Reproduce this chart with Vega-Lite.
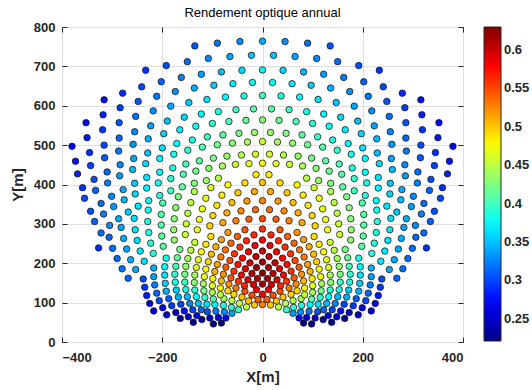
{
"$schema":"https://vega.github.io/schema/vega-lite/v6.json",
"width":401,"height":315,
"autosize":{"type":"none"},
"padding":{"left":62,"top":27,"right":69,"bottom":48},
"background":"white",
"title":{"text":"Rendement  optique  annual","fontSize":13,"fontWeight":"normal","font":"Liberation Sans","color":"#000000","offset":1},
"config":{"view":{"stroke":"#262626","strokeWidth":1}},
"resolve":{"axis":{"x":"independent","y":"independent"}},
"layer":[
{
"data":{"values":[
{"x":-82,"y":48,"v":0.222},{"x":-73,"y":61,"v":0.270},{"x":-61,"y":73,"v":0.335},{"x":-48,"y":82,"v":0.396},{"x":-32,"y":89,"v":0.451},{"x":-16,"y":94,"v":0.498},{"x":0,"y":95,"v":0.530},{"x":16,"y":94,"v":0.498},{"x":32,"y":89,"v":0.451},{"x":48,"y":82,"v":0.396},{"x":61,"y":73,"v":0.335},{"x":73,"y":61,"v":0.270},{"x":82,"y":48,"v":0.222},
{"x":-98,"y":46,"v":0.222},{"x":-88,"y":62,"v":0.260},{"x":-76,"y":76,"v":0.328},{"x":-62,"y":88,"v":0.391},{"x":-46,"y":98,"v":0.449},{"x":-28,"y":104,"v":0.501},{"x":-9,"y":108,"v":0.542},{"x":9,"y":108,"v":0.542},{"x":28,"y":104,"v":0.501},{"x":46,"y":98,"v":0.449},{"x":62,"y":88,"v":0.391},{"x":76,"y":76,"v":0.328},{"x":88,"y":62,"v":0.260},{"x":98,"y":46,"v":0.222},
{"x":-105,"y":61,"v":0.250},{"x":-93,"y":78,"v":0.320},{"x":-78,"y":93,"v":0.385},{"x":-61,"y":105,"v":0.446},{"x":-41,"y":114,"v":0.501},{"x":-21,"y":119,"v":0.548},{"x":0,"y":121,"v":0.580},{"x":21,"y":119,"v":0.548},{"x":41,"y":114,"v":0.501},{"x":61,"y":105,"v":0.446},{"x":78,"y":93,"v":0.385},{"x":93,"y":78,"v":0.320},{"x":105,"y":61,"v":0.250},
{"x":-121,"y":57,"v":0.234},{"x":-110,"y":77,"v":0.305},{"x":-95,"y":95,"v":0.373},{"x":-77,"y":110,"v":0.436},{"x":-57,"y":121,"v":0.494},{"x":-35,"y":129,"v":0.546},{"x":-12,"y":133,"v":0.587},{"x":12,"y":133,"v":0.587},{"x":35,"y":129,"v":0.546},{"x":57,"y":121,"v":0.494},{"x":77,"y":110,"v":0.436},{"x":95,"y":95,"v":0.373},{"x":110,"y":77,"v":0.305},{"x":121,"y":57,"v":0.234},
{"x":-138,"y":50,"v":0.222},{"x":-131,"y":67,"v":0.263},{"x":-122,"y":82,"v":0.313},{"x":-111,"y":96,"v":0.361},{"x":-98,"y":109,"v":0.407},{"x":-84,"y":120,"v":0.451},{"x":-69,"y":130,"v":0.492},{"x":-53,"y":137,"v":0.531},{"x":-36,"y":143,"v":0.565},{"x":-18,"y":146,"v":0.595},{"x":0,"y":147,"v":0.615},{"x":18,"y":146,"v":0.595},{"x":36,"y":143,"v":0.565},{"x":53,"y":137,"v":0.531},{"x":69,"y":130,"v":0.492},{"x":84,"y":120,"v":0.451},{"x":98,"y":109,"v":0.407},{"x":111,"y":96,"v":0.361},{"x":122,"y":82,"v":0.313},{"x":131,"y":67,"v":0.263},{"x":138,"y":50,"v":0.222},
{"x":-148,"y":64,"v":0.248},{"x":-139,"y":82,"v":0.299},{"x":-128,"y":98,"v":0.348},{"x":-115,"y":113,"v":0.395},{"x":-100,"y":126,"v":0.440},{"x":-84,"y":137,"v":0.482},{"x":-67,"y":147,"v":0.522},{"x":-48,"y":154,"v":0.559},{"x":-29,"y":158,"v":0.591},{"x":-10,"y":161,"v":0.617},{"x":10,"y":161,"v":0.617},{"x":29,"y":158,"v":0.591},{"x":48,"y":154,"v":0.559},{"x":67,"y":147,"v":0.522},{"x":84,"y":137,"v":0.482},{"x":100,"y":126,"v":0.440},{"x":115,"y":113,"v":0.395},{"x":128,"y":98,"v":0.348},{"x":139,"y":82,"v":0.299},{"x":148,"y":64,"v":0.248},
{"x":-164,"y":60,"v":0.225},{"x":-156,"y":79,"v":0.276},{"x":-145,"y":98,"v":0.326},{"x":-132,"y":115,"v":0.374},{"x":-117,"y":130,"v":0.420},{"x":-100,"y":143,"v":0.464},{"x":-82,"y":155,"v":0.505},{"x":-63,"y":163,"v":0.544},{"x":-42,"y":170,"v":0.578},{"x":-21,"y":174,"v":0.608},{"x":0,"y":175,"v":0.628},{"x":21,"y":174,"v":0.608},{"x":42,"y":170,"v":0.578},{"x":63,"y":163,"v":0.544},{"x":82,"y":155,"v":0.505},{"x":100,"y":143,"v":0.464},{"x":117,"y":130,"v":0.420},{"x":132,"y":115,"v":0.374},{"x":145,"y":98,"v":0.326},{"x":156,"y":79,"v":0.276},{"x":164,"y":60,"v":0.225},
{"x":-173,"y":75,"v":0.248},{"x":-163,"y":96,"v":0.299},{"x":-150,"y":115,"v":0.348},{"x":-135,"y":132,"v":0.395},{"x":-118,"y":148,"v":0.440},{"x":-99,"y":161,"v":0.482},{"x":-78,"y":172,"v":0.522},{"x":-57,"y":180,"v":0.559},{"x":-34,"y":186,"v":0.591},{"x":-12,"y":189,"v":0.617},{"x":12,"y":189,"v":0.617},{"x":34,"y":186,"v":0.591},{"x":57,"y":180,"v":0.559},{"x":78,"y":172,"v":0.522},{"x":99,"y":161,"v":0.482},{"x":118,"y":148,"v":0.440},{"x":135,"y":132,"v":0.395},{"x":150,"y":115,"v":0.348},{"x":163,"y":96,"v":0.299},{"x":173,"y":75,"v":0.248},
{"x":-191,"y":69,"v":0.249},{"x":-181,"y":92,"v":0.296},{"x":-168,"y":114,"v":0.342},{"x":-153,"y":133,"v":0.386},{"x":-136,"y":151,"v":0.429},{"x":-116,"y":166,"v":0.469},{"x":-95,"y":179,"v":0.507},{"x":-73,"y":190,"v":0.543},{"x":-49,"y":197,"v":0.574},{"x":-25,"y":201,"v":0.602},{"x":0,"y":203,"v":0.620},{"x":25,"y":201,"v":0.602},{"x":49,"y":197,"v":0.574},{"x":73,"y":190,"v":0.543},{"x":95,"y":179,"v":0.507},{"x":116,"y":166,"v":0.469},{"x":136,"y":151,"v":0.429},{"x":153,"y":133,"v":0.386},{"x":168,"y":114,"v":0.342},{"x":181,"y":92,"v":0.296},{"x":191,"y":69,"v":0.249},
{"x":-199,"y":87,"v":0.263},{"x":-187,"y":110,"v":0.310},{"x":-172,"y":132,"v":0.355},{"x":-155,"y":152,"v":0.398},{"x":-135,"y":170,"v":0.440},{"x":-113,"y":185,"v":0.478},{"x":-90,"y":197,"v":0.515},{"x":-65,"y":207,"v":0.549},{"x":-40,"y":213,"v":0.579},{"x":-13,"y":217,"v":0.603},{"x":13,"y":217,"v":0.603},{"x":40,"y":213,"v":0.579},{"x":65,"y":207,"v":0.549},{"x":90,"y":197,"v":0.515},{"x":113,"y":185,"v":0.478},{"x":135,"y":170,"v":0.440},{"x":155,"y":152,"v":0.398},{"x":172,"y":132,"v":0.355},{"x":187,"y":110,"v":0.310},{"x":199,"y":87,"v":0.263},
{"x":-217,"y":79,"v":0.257},{"x":-206,"y":105,"v":0.301},{"x":-192,"y":129,"v":0.343},{"x":-174,"y":152,"v":0.384},{"x":-155,"y":172,"v":0.423},{"x":-132,"y":189,"v":0.461},{"x":-108,"y":204,"v":0.495},{"x":-83,"y":216,"v":0.529},{"x":-56,"y":224,"v":0.558},{"x":-28,"y":229,"v":0.583},{"x":0,"y":231,"v":0.600},{"x":28,"y":229,"v":0.583},{"x":56,"y":224,"v":0.558},{"x":83,"y":216,"v":0.529},{"x":108,"y":204,"v":0.495},{"x":132,"y":189,"v":0.461},{"x":155,"y":172,"v":0.423},{"x":174,"y":152,"v":0.384},{"x":192,"y":129,"v":0.343},{"x":206,"y":105,"v":0.301},{"x":217,"y":79,"v":0.257},
{"x":-225,"y":98,"v":0.270},{"x":-211,"y":124,"v":0.313},{"x":-194,"y":149,"v":0.355},{"x":-175,"y":172,"v":0.395},{"x":-153,"y":192,"v":0.433},{"x":-128,"y":209,"v":0.469},{"x":-102,"y":223,"v":0.503},{"x":-74,"y":234,"v":0.534},{"x":-45,"y":241,"v":0.561},{"x":-15,"y":245,"v":0.583},{"x":15,"y":245,"v":0.583},{"x":45,"y":241,"v":0.561},{"x":74,"y":234,"v":0.534},{"x":102,"y":223,"v":0.503},{"x":128,"y":209,"v":0.469},{"x":153,"y":192,"v":0.433},{"x":175,"y":172,"v":0.395},{"x":194,"y":149,"v":0.355},{"x":211,"y":124,"v":0.313},{"x":225,"y":98,"v":0.270},
{"x":-231,"y":118,"v":0.281},{"x":-215,"y":145,"v":0.323},{"x":-195,"y":170,"v":0.364},{"x":-173,"y":192,"v":0.403},{"x":-149,"y":212,"v":0.441},{"x":-122,"y":229,"v":0.475},{"x":-93,"y":242,"v":0.509},{"x":-63,"y":251,"v":0.538},{"x":-32,"y":257,"v":0.563},{"x":0,"y":259,"v":0.580},{"x":32,"y":257,"v":0.563},{"x":63,"y":251,"v":0.538},{"x":93,"y":242,"v":0.509},{"x":122,"y":229,"v":0.475},{"x":149,"y":212,"v":0.441},{"x":173,"y":192,"v":0.403},{"x":195,"y":170,"v":0.364},{"x":215,"y":145,"v":0.323},{"x":231,"y":118,"v":0.281},
{"x":-235,"y":139,"v":0.293},{"x":-217,"y":166,"v":0.335},{"x":-195,"y":191,"v":0.375},{"x":-170,"y":214,"v":0.413},{"x":-143,"y":233,"v":0.449},{"x":-113,"y":248,"v":0.483},{"x":-82,"y":260,"v":0.514},{"x":-50,"y":268,"v":0.541},{"x":-17,"y":272,"v":0.563},{"x":17,"y":272,"v":0.563},{"x":50,"y":268,"v":0.541},{"x":82,"y":260,"v":0.514},{"x":113,"y":248,"v":0.483},{"x":143,"y":233,"v":0.449},{"x":170,"y":214,"v":0.413},{"x":195,"y":191,"v":0.375},{"x":217,"y":166,"v":0.335},{"x":235,"y":139,"v":0.293},
{"x":-238,"y":160,"v":0.303},{"x":-217,"y":188,"v":0.344},{"x":-192,"y":213,"v":0.383},{"x":-165,"y":235,"v":0.421},{"x":-135,"y":253,"v":0.455},{"x":-103,"y":268,"v":0.489},{"x":-69,"y":278,"v":0.518},{"x":-35,"y":285,"v":0.543},{"x":0,"y":287,"v":0.560},{"x":35,"y":285,"v":0.543},{"x":69,"y":278,"v":0.518},{"x":103,"y":268,"v":0.489},{"x":135,"y":253,"v":0.455},{"x":165,"y":235,"v":0.421},{"x":192,"y":213,"v":0.383},{"x":217,"y":188,"v":0.344},{"x":238,"y":160,"v":0.303},
{"x":-268,"y":162,"v":0.314},{"x":-253,"y":184,"v":0.340},{"x":-236,"y":205,"v":0.364},{"x":-218,"y":225,"v":0.388},{"x":-198,"y":243,"v":0.411},{"x":-176,"y":259,"v":0.433},{"x":-154,"y":273,"v":0.454},{"x":-130,"y":285,"v":0.475},{"x":-105,"y":295,"v":0.494},{"x":-79,"y":303,"v":0.511},{"x":-53,"y":308,"v":0.527},{"x":-27,"y":312,"v":0.541},{"x":0,"y":313,"v":0.550},{"x":27,"y":312,"v":0.541},{"x":53,"y":308,"v":0.527},{"x":79,"y":303,"v":0.511},{"x":105,"y":295,"v":0.494},{"x":130,"y":285,"v":0.475},{"x":154,"y":273,"v":0.454},{"x":176,"y":259,"v":0.433},{"x":198,"y":243,"v":0.411},{"x":218,"y":225,"v":0.388},{"x":236,"y":205,"v":0.364},{"x":253,"y":184,"v":0.340},{"x":268,"y":162,"v":0.314},
{"x":-280,"y":186,"v":0.317},{"x":-263,"y":209,"v":0.342},{"x":-244,"y":231,"v":0.366},{"x":-223,"y":251,"v":0.390},{"x":-201,"y":269,"v":0.412},{"x":-177,"y":285,"v":0.434},{"x":-152,"y":300,"v":0.455},{"x":-126,"y":311,"v":0.474},{"x":-99,"y":321,"v":0.493},{"x":-71,"y":328,"v":0.509},{"x":-43,"y":333,"v":0.524},{"x":-14,"y":336,"v":0.536},{"x":14,"y":336,"v":0.536},{"x":43,"y":333,"v":0.524},{"x":71,"y":328,"v":0.509},{"x":99,"y":321,"v":0.493},{"x":126,"y":311,"v":0.474},{"x":152,"y":300,"v":0.455},{"x":177,"y":285,"v":0.434},{"x":201,"y":269,"v":0.412},{"x":223,"y":251,"v":0.390},{"x":244,"y":231,"v":0.366},{"x":263,"y":209,"v":0.342},{"x":280,"y":186,"v":0.317},
{"x":-290,"y":212,"v":0.315},{"x":-271,"y":236,"v":0.339},{"x":-250,"y":258,"v":0.363},{"x":-227,"y":278,"v":0.386},{"x":-202,"y":297,"v":0.408},{"x":-176,"y":313,"v":0.429},{"x":-149,"y":327,"v":0.450},{"x":-120,"y":338,"v":0.469},{"x":-91,"y":347,"v":0.486},{"x":-61,"y":354,"v":0.502},{"x":-31,"y":358,"v":0.516},{"x":0,"y":359,"v":0.525},{"x":31,"y":358,"v":0.516},{"x":61,"y":354,"v":0.502},{"x":91,"y":347,"v":0.486},{"x":120,"y":338,"v":0.469},{"x":149,"y":327,"v":0.450},{"x":176,"y":313,"v":0.429},{"x":202,"y":297,"v":0.408},{"x":227,"y":278,"v":0.386},{"x":250,"y":258,"v":0.363},{"x":271,"y":236,"v":0.339},{"x":290,"y":212,"v":0.315},
{"x":-299,"y":238,"v":0.317},{"x":-277,"y":263,"v":0.341},{"x":-254,"y":285,"v":0.365},{"x":-229,"y":306,"v":0.387},{"x":-202,"y":324,"v":0.409},{"x":-173,"y":341,"v":0.430},{"x":-143,"y":354,"v":0.449},{"x":-113,"y":365,"v":0.468},{"x":-81,"y":373,"v":0.484},{"x":-49,"y":379,"v":0.499},{"x":-16,"y":382,"v":0.511},{"x":16,"y":382,"v":0.511},{"x":49,"y":379,"v":0.499},{"x":81,"y":373,"v":0.484},{"x":113,"y":365,"v":0.468},{"x":143,"y":354,"v":0.449},{"x":173,"y":341,"v":0.430},{"x":202,"y":324,"v":0.409},{"x":229,"y":306,"v":0.387},{"x":254,"y":285,"v":0.365},{"x":277,"y":263,"v":0.341},{"x":299,"y":238,"v":0.317},
{"x":-327,"y":239,"v":0.290},{"x":-306,"y":266,"v":0.314},{"x":-282,"y":291,"v":0.338},{"x":-256,"y":314,"v":0.361},{"x":-228,"y":335,"v":0.383},{"x":-199,"y":353,"v":0.404},{"x":-168,"y":369,"v":0.425},{"x":-136,"y":382,"v":0.444},{"x":-103,"y":392,"v":0.461},{"x":-69,"y":399,"v":0.477},{"x":-35,"y":404,"v":0.491},{"x":0,"y":405,"v":0.500},{"x":35,"y":404,"v":0.491},{"x":69,"y":399,"v":0.477},{"x":103,"y":392,"v":0.461},{"x":136,"y":382,"v":0.444},{"x":168,"y":369,"v":0.425},{"x":199,"y":353,"v":0.404},{"x":228,"y":335,"v":0.383},{"x":256,"y":314,"v":0.361},{"x":282,"y":291,"v":0.338},{"x":306,"y":266,"v":0.314},{"x":327,"y":239,"v":0.290},
{"x":-322,"y":277,"v":0.317},{"x":-305,"y":296,"v":0.329},{"x":-287,"y":313,"v":0.341},{"x":-268,"y":330,"v":0.353},{"x":-248,"y":345,"v":0.365},{"x":-227,"y":359,"v":0.377},{"x":-205,"y":372,"v":0.389},{"x":-183,"y":384,"v":0.401},{"x":-160,"y":394,"v":0.413},{"x":-136,"y":403,"v":0.425},{"x":-112,"y":410,"v":0.436},{"x":-88,"y":416,"v":0.448},{"x":-13,"y":425,"v":0.484},{"x":13,"y":425,"v":0.484},{"x":88,"y":416,"v":0.448},{"x":112,"y":410,"v":0.436},{"x":136,"y":403,"v":0.425},{"x":160,"y":394,"v":0.413},{"x":183,"y":384,"v":0.401},{"x":205,"y":372,"v":0.389},{"x":227,"y":359,"v":0.377},{"x":248,"y":345,"v":0.365},{"x":268,"y":330,"v":0.353},{"x":287,"y":313,"v":0.341},{"x":305,"y":296,"v":0.329},{"x":322,"y":277,"v":0.317},
{"x":-335,"y":306,"v":0.311},{"x":-317,"y":325,"v":0.323},{"x":-297,"y":344,"v":0.335},{"x":-276,"y":361,"v":0.347},{"x":-254,"y":376,"v":0.359},{"x":-231,"y":391,"v":0.371},{"x":-208,"y":404,"v":0.383},{"x":-183,"y":415,"v":0.395},{"x":-158,"y":426,"v":0.407},{"x":-133,"y":434,"v":0.418},{"x":-107,"y":441,"v":0.430},{"x":-80,"y":447,"v":0.442},{"x":-54,"y":451,"v":0.454},{"x":-27,"y":453,"v":0.466},{"x":0,"y":454,"v":0.478},{"x":27,"y":453,"v":0.466},{"x":54,"y":451,"v":0.454},{"x":80,"y":447,"v":0.442},{"x":107,"y":441,"v":0.430},{"x":133,"y":434,"v":0.418},{"x":158,"y":426,"v":0.407},{"x":183,"y":415,"v":0.395},{"x":208,"y":404,"v":0.383},{"x":231,"y":391,"v":0.371},{"x":254,"y":376,"v":0.359},{"x":276,"y":361,"v":0.347},{"x":297,"y":344,"v":0.335},{"x":317,"y":325,"v":0.323},{"x":335,"y":306,"v":0.311},
{"x":-343,"y":332,"v":0.304},{"x":-322,"y":352,"v":0.316},{"x":-301,"y":370,"v":0.328},{"x":-278,"y":387,"v":0.340},{"x":-255,"y":403,"v":0.352},{"x":-231,"y":418,"v":0.364},{"x":-205,"y":431,"v":0.376},{"x":-179,"y":442,"v":0.388},{"x":-153,"y":452,"v":0.400},{"x":-126,"y":460,"v":0.411},{"x":-98,"y":467,"v":0.423},{"x":-71,"y":472,"v":0.435},{"x":-42,"y":475,"v":0.447},{"x":-14,"y":477,"v":0.459},{"x":14,"y":477,"v":0.459},{"x":42,"y":475,"v":0.447},{"x":71,"y":472,"v":0.435},{"x":98,"y":467,"v":0.423},{"x":126,"y":460,"v":0.411},{"x":153,"y":452,"v":0.400},{"x":179,"y":442,"v":0.388},{"x":205,"y":431,"v":0.376},{"x":231,"y":418,"v":0.364},{"x":255,"y":403,"v":0.352},{"x":278,"y":387,"v":0.340},{"x":301,"y":370,"v":0.328},{"x":322,"y":352,"v":0.316},{"x":343,"y":332,"v":0.304},
{"x":-355,"y":365,"v":0.300},{"x":-333,"y":385,"v":0.312},{"x":-309,"y":404,"v":0.324},{"x":-285,"y":422,"v":0.336},{"x":-259,"y":438,"v":0.348},{"x":-233,"y":453,"v":0.360},{"x":-205,"y":466,"v":0.372},{"x":-177,"y":477,"v":0.384},{"x":-149,"y":487,"v":0.395},{"x":-120,"y":495,"v":0.407},{"x":-90,"y":501,"v":0.419},{"x":-60,"y":505,"v":0.431},{"x":-30,"y":508,"v":0.443},{"x":0,"y":509,"v":0.455},{"x":30,"y":508,"v":0.443},{"x":60,"y":505,"v":0.431},{"x":90,"y":501,"v":0.419},{"x":120,"y":495,"v":0.407},{"x":149,"y":487,"v":0.395},{"x":177,"y":477,"v":0.384},{"x":205,"y":466,"v":0.372},{"x":233,"y":453,"v":0.360},{"x":259,"y":438,"v":0.348},{"x":285,"y":422,"v":0.336},{"x":309,"y":404,"v":0.324},{"x":333,"y":385,"v":0.312},{"x":355,"y":365,"v":0.300},
{"x":-359,"y":392,"v":0.291},{"x":-336,"y":413,"v":0.303},{"x":-310,"y":432,"v":0.315},{"x":-284,"y":450,"v":0.327},{"x":-257,"y":466,"v":0.339},{"x":-229,"y":480,"v":0.351},{"x":-200,"y":493,"v":0.363},{"x":-171,"y":504,"v":0.375},{"x":-140,"y":513,"v":0.386},{"x":-110,"y":521,"v":0.398},{"x":-79,"y":526,"v":0.410},{"x":-47,"y":530,"v":0.422},{"x":-16,"y":532,"v":0.434},{"x":16,"y":532,"v":0.434},{"x":47,"y":530,"v":0.422},{"x":79,"y":526,"v":0.410},{"x":110,"y":521,"v":0.398},{"x":140,"y":513,"v":0.386},{"x":171,"y":504,"v":0.375},{"x":200,"y":493,"v":0.363},{"x":229,"y":480,"v":0.351},{"x":257,"y":466,"v":0.339},{"x":284,"y":450,"v":0.327},{"x":310,"y":432,"v":0.315},{"x":336,"y":413,"v":0.303},{"x":359,"y":392,"v":0.291},
{"x":-369,"y":427,"v":0.285},{"x":-343,"y":448,"v":0.297},{"x":-315,"y":468,"v":0.309},{"x":-287,"y":485,"v":0.321},{"x":-258,"y":502,"v":0.333},{"x":-228,"y":516,"v":0.345},{"x":-197,"y":529,"v":0.357},{"x":-165,"y":539,"v":0.368},{"x":-133,"y":548,"v":0.380},{"x":-100,"y":555,"v":0.392},{"x":-67,"y":560,"v":0.404},{"x":-33,"y":563,"v":0.416},{"x":0,"y":564,"v":0.428},{"x":33,"y":563,"v":0.416},{"x":67,"y":560,"v":0.404},{"x":100,"y":555,"v":0.392},{"x":133,"y":548,"v":0.380},{"x":165,"y":539,"v":0.368},{"x":197,"y":529,"v":0.357},{"x":228,"y":516,"v":0.345},{"x":258,"y":502,"v":0.333},{"x":287,"y":485,"v":0.321},{"x":315,"y":468,"v":0.309},{"x":343,"y":448,"v":0.297},{"x":369,"y":427,"v":0.285},
{"x":-373,"y":459,"v":0.278},{"x":-345,"y":481,"v":0.290},{"x":-316,"y":500,"v":0.302},{"x":-286,"y":518,"v":0.314},{"x":-255,"y":534,"v":0.326},{"x":-223,"y":549,"v":0.338},{"x":-190,"y":561,"v":0.350},{"x":-156,"y":571,"v":0.361},{"x":-122,"y":579,"v":0.373},{"x":-88,"y":585,"v":0.385},{"x":-53,"y":590,"v":0.397},{"x":-18,"y":592,"v":0.409},{"x":18,"y":592,"v":0.409},{"x":53,"y":590,"v":0.397},{"x":88,"y":585,"v":0.385},{"x":122,"y":579,"v":0.373},{"x":156,"y":571,"v":0.361},{"x":190,"y":561,"v":0.350},{"x":223,"y":549,"v":0.338},{"x":255,"y":534,"v":0.326},{"x":286,"y":518,"v":0.314},{"x":316,"y":500,"v":0.302},{"x":345,"y":481,"v":0.290},{"x":373,"y":459,"v":0.278},
{"x":-380,"y":497,"v":0.269},{"x":-350,"y":519,"v":0.281},{"x":-319,"y":539,"v":0.293},{"x":-286,"y":557,"v":0.305},{"x":-253,"y":573,"v":0.317},{"x":-218,"y":587,"v":0.329},{"x":-183,"y":599,"v":0.340},{"x":-147,"y":608,"v":0.352},{"x":-111,"y":616,"v":0.364},{"x":-74,"y":622,"v":0.376},{"x":-37,"y":625,"v":0.388},{"x":0,"y":626,"v":0.400},{"x":37,"y":625,"v":0.388},{"x":74,"y":622,"v":0.376},{"x":111,"y":616,"v":0.364},{"x":147,"y":608,"v":0.352},{"x":183,"y":599,"v":0.340},{"x":218,"y":587,"v":0.329},{"x":253,"y":573,"v":0.317},{"x":286,"y":557,"v":0.305},{"x":319,"y":539,"v":0.293},{"x":350,"y":519,"v":0.281},{"x":380,"y":497,"v":0.269},
{"x":-352,"y":557,"v":0.272},{"x":-318,"y":577,"v":0.284},{"x":-284,"y":595,"v":0.296},{"x":-248,"y":611,"v":0.308},{"x":-211,"y":624,"v":0.320},{"x":-174,"y":636,"v":0.331},{"x":-136,"y":645,"v":0.343},{"x":-97,"y":652,"v":0.355},{"x":-59,"y":656,"v":0.367},{"x":-20,"y":659,"v":0.379},{"x":20,"y":659,"v":0.379},{"x":59,"y":656,"v":0.367},{"x":97,"y":652,"v":0.355},{"x":136,"y":645,"v":0.343},{"x":174,"y":636,"v":0.331},{"x":211,"y":624,"v":0.320},{"x":248,"y":611,"v":0.308},{"x":284,"y":595,"v":0.296},{"x":318,"y":577,"v":0.284},{"x":352,"y":557,"v":0.272},
{"x":-316,"y":615,"v":0.277},{"x":-279,"y":632,"v":0.289},{"x":-241,"y":648,"v":0.301},{"x":-202,"y":661,"v":0.312},{"x":-162,"y":672,"v":0.324},{"x":-122,"y":680,"v":0.336},{"x":-82,"y":686,"v":0.348},{"x":-41,"y":690,"v":0.360},{"x":0,"y":691,"v":0.372},{"x":41,"y":690,"v":0.360},{"x":82,"y":686,"v":0.348},{"x":122,"y":680,"v":0.336},{"x":162,"y":672,"v":0.324},{"x":202,"y":661,"v":0.312},{"x":241,"y":648,"v":0.301},{"x":279,"y":632,"v":0.289},{"x":316,"y":615,"v":0.277},
{"x":-233,"y":690,"v":0.292},{"x":-192,"y":702,"v":0.303},{"x":-150,"y":712,"v":0.315},{"x":-108,"y":720,"v":0.327},{"x":-65,"y":725,"v":0.339},{"x":-22,"y":728,"v":0.351},{"x":22,"y":728,"v":0.351},{"x":65,"y":725,"v":0.339},{"x":108,"y":720,"v":0.327},{"x":150,"y":712,"v":0.315},{"x":192,"y":702,"v":0.303},{"x":233,"y":690,"v":0.292},
{"x":-135,"y":752,"v":0.306},{"x":-90,"y":759,"v":0.318},{"x":-45,"y":763,"v":0.330},{"x":0,"y":764,"v":0.342},{"x":45,"y":763,"v":0.330},{"x":90,"y":759,"v":0.318},{"x":135,"y":752,"v":0.306}
]},
"mark":{"type":"circle","size":42,"opacity":1,"stroke":"#1a1a1a","strokeWidth":0.8},
"encoding":{
"x":{"field":"x","type":"quantitative","scale":{"domain":[-400,400],"nice":false,"zero":false},
"axis":{"orient":"bottom","values":[-400,-200,0,200,400],"title":"X[m]","titleFont":"Liberation Sans","titleFontSize":15,"titleFontWeight":"bold","titleColor":"#262626","titlePadding":5,"labelFont":"Liberation Sans","labelFontSize":13,"labelFontWeight":"bold","labelColor":"#262626","labelPadding":14,"domain":false,"ticks":true,"tickSize":-5,"tickColor":"#262626","grid":true,"gridColor":"#dfdfdf","gridWidth":1}},
"y":{"field":"y","type":"quantitative","scale":{"domain":[0,800],"nice":false,"zero":false},
"axis":{"orient":"left","values":[0,100,200,300,400,500,600,700,800],"title":"Y[m]","titleFont":"Liberation Sans","titleFontSize":15,"titleFontWeight":"bold","titleColor":"#262626","titlePadding":8,"labelFont":"Liberation Sans","labelFontSize":13,"labelFontWeight":"bold","labelColor":"#262626","labelPadding":12,"domain":false,"ticks":true,"tickSize":-5,"tickColor":"#262626","grid":true,"gridColor":"#dfdfdf","gridWidth":1}},
"color":{"field":"v","type":"quantitative",
"scale":{"domain":[0.221,0.2721,0.3744,0.4766,0.5789,0.63],"range":["#000084","#0000ff","#00ffff","#ffff00","#ff0000","#800000"],"interpolate":"rgb","clamp":true},
"legend":{"orient":"none","legendX":422,"legendY":0,"direction":"vertical","gradientLength":314,"gradientThickness":17,"title":null,"values":[0.25,0.3,0.35,0.4,0.45,0.5,0.55,0.6],"format":"~g","labelFont":"Liberation Sans","labelFontSize":13,"labelFontWeight":"bold","labelColor":"#262626","labelOffset":3,"labelBaseline":"middle","labelOverlap":false,"gradientStrokeColor":"#262626","gradientStrokeWidth":1}}
}
},
{
"data":{"values":[{"x":0,"y":0}]},
"mark":{"type":"point","opacity":0},
"encoding":{
"x":{"field":"x","type":"quantitative","scale":{"domain":[-400,400],"nice":false,"zero":false},"axis":{"orient":"top","values":[-400,-200,0,200,400],"labels":false,"title":null,"grid":false,"domain":false,"ticks":true,"tickSize":-5,"tickColor":"#262626"}},
"y":{"field":"y","type":"quantitative","scale":{"domain":[0,800],"nice":false,"zero":false},"axis":{"orient":"right","values":[0,100,200,300,400,500,600,700,800],"labels":false,"title":null,"grid":false,"domain":false,"ticks":true,"tickSize":-5,"tickColor":"#262626"}}
}
}
]
}
